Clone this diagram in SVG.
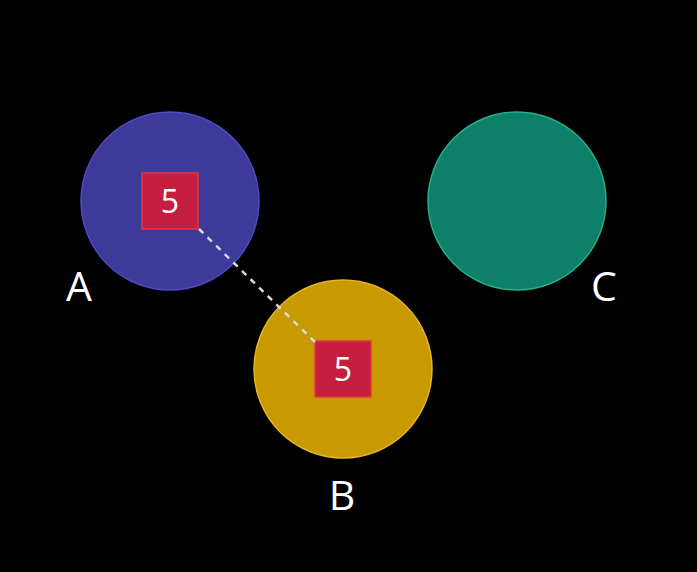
<svg xmlns="http://www.w3.org/2000/svg" width="697" height="572" viewBox="0 0 697 572">
<style>
.lbl{font-family:"Open Sans","Noto Sans",sans-serif;font-size:41px;fill:#ffffff;text-anchor:middle}
.num{font-family:"Open Sans","Noto Sans",sans-serif;font-size:32px;fill:#ffffff;text-anchor:middle}
.sq{fill:#c41f3e;stroke:#e8343f;stroke-width:1.5}
</style>
<rect width="697" height="572" fill="#000000"/>
<g id="nodeA">
<circle cx="170" cy="201" r="89" fill="#3d3a9a" stroke="#5148c4" stroke-width="1.5"/>
<rect class="sq" x="142" y="173" width="56" height="56"/>
<text class="num" x="170" y="213">5</text>
<text class="lbl" x="79" y="301">A</text>
</g>
<g id="nodeB">
<circle cx="343" cy="369" r="89" fill="#c89a00" stroke="#e6b526" stroke-width="1.5"/>
<rect class="sq" x="315" y="341" width="56" height="56"/>
<text class="num" x="343" y="381">5</text>
<text class="lbl" x="342" y="510">B</text>
</g>
<g id="nodeC">
<circle cx="517" cy="201" r="89" fill="#0e7f68" stroke="#25b08c" stroke-width="1.5"/>
<text class="lbl" x="604" y="301">C</text>
</g>
<g id="connectors">
<line x1="199" y1="229" x2="315" y2="342" stroke="#d8d8e0" stroke-width="2.5" stroke-dasharray="6,6"/>
</g>
</svg>
